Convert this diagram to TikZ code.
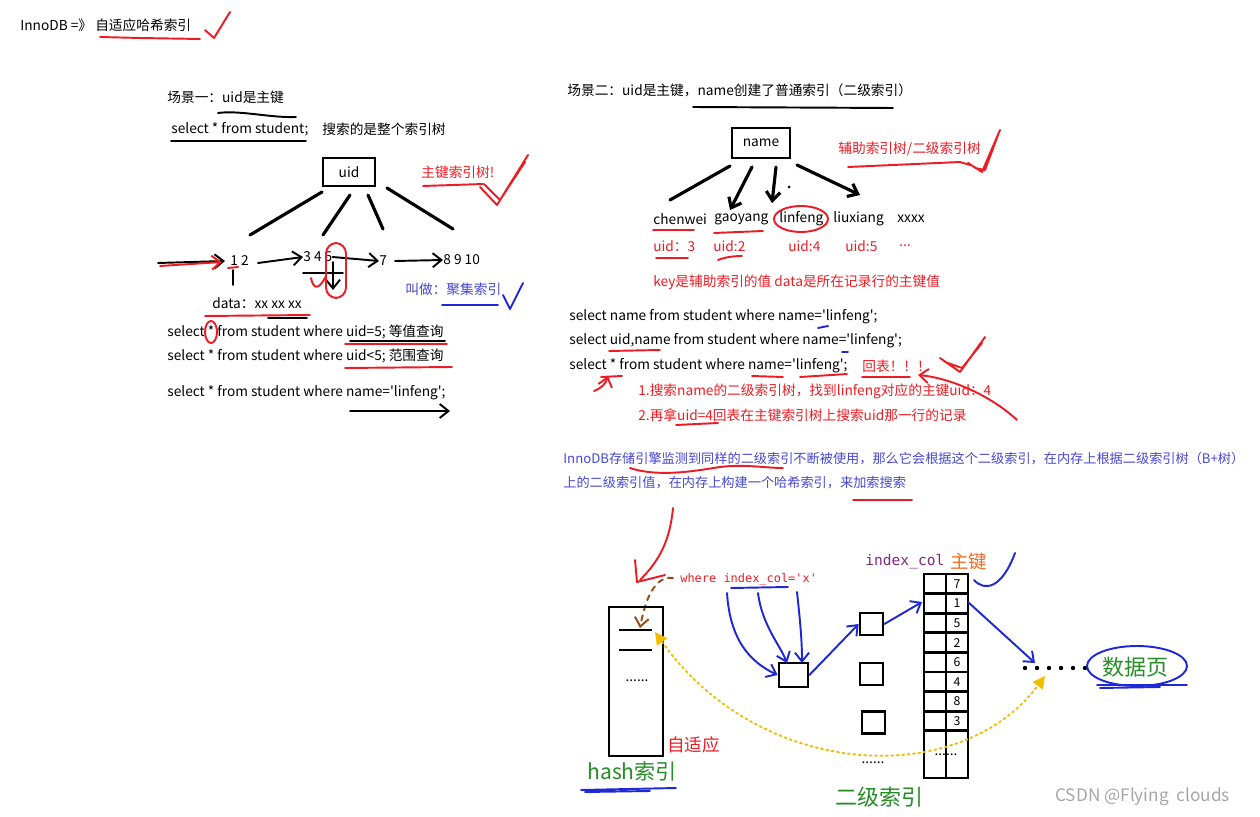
\documentclass[tikz,border=0pt]{standalone}
\usepackage{fontspec}
\setmainfont{Noto Sans CJK SC}
\newfontfamily\cjkfont{Noto Sans CJK SC}
\newfontfamily\codefont{DejaVu Sans Mono}
\usetikzlibrary{arrows.meta}

\definecolor{hred}{RGB}{237,28,36}
\definecolor{hblue}{RGB}{30,40,215}
\definecolor{tblue}{RGB}{70,70,210}
\definecolor{hgreen}{RGB}{40,140,40}
\definecolor{hpurple}{RGB}{128,40,128}
\definecolor{horange}{RGB}{240,110,40}
\definecolor{hbrown}{RGB}{150,75,20}
\definecolor{hyellow}{RGB}{240,190,0}

\tikzset{
  txt/.style={anchor=west, inner sep=0pt, font=\fontsize{7.8}{9}\cjkfont},
  rtxt/.style={txt, text=hred},
  pen/.style={line width=1.1pt, line cap=round, line join=round},
  rpen/.style={pen, draw=hred},
  bpen/.style={pen, draw=hblue},
  tip/.style={-{Straight Barb[length=5pt,width=8pt]}},
  keybox/.style={draw, line width=1.6pt, inner sep=0pt, font=\fontsize{7.8}{9}\cjkfont},
  treeline/.style={line width=1.8pt, line cap=round},
}

\begin{document}
\begin{tikzpicture}[x=0.02cm, y=-0.02cm]
\useasboundingbox (0,0) rectangle (1260,817);

% title
\node[txt] (title) at (20,25) {InnoDB =》 自适应哈希索引};
\draw[rpen] (100,37) -- (140,38) -- (200,39);
\draw[rpen] (205,30) -- (214,38) -- (230,12);

% scene one
\node[txt] (s1) at (167,97) {场景一：uid是主键};
\draw[pen] (218,113) .. controls (240,110) and (270,118) .. (296,117);
\node[txt] (q0) at (171,129) {select * from student;};
\draw[pen] (171,141) -- (306,141);
\node[txt] (q0note) at (322,129) {搜索的是整个索引树};

\node[keybox, minimum width=1.04cm, minimum height=0.56cm] (uid) at (349,172) {uid};
\draw[treeline] (322,192) -- (250,235) (350,195) -- (323,235)
  (368,195) -- (383,229) (387,188) -- (453,229);

\node[rtxt] (pktree) at (421,172) {主键索引树!};
\draw[rpen] (423,186) -- (483,184);
\draw[rpen] (480,187) -- (497,205) -- (528,155) (484,184) -- (500,200) -- (525,162);

\node[txt] (k12) at (230,261) {1 2};
\node[txt] (k345) at (303,257) {3 4 5};
\node[txt] (k7) at (379,261) {7};
\node[txt] (k8) at (443,260) {8 9 10};
\draw[pen, tip] (158,263) -- (225,261);
\draw[rpen, tip] (160,266) -- (222,262);
\draw[pen, tip] (258,263) -- (k345.west);
\draw[pen, tip] (k345.east) -- (k7.west);
\draw[pen, tip] (395,261) -- (k8.west);
\draw[pen] (233,270) -- (233,285);
\draw[rpen] (228,268) -- (238,267);
\draw[pen] (303,273) -- (343,273);
\draw[pen, tip] (333,262) -- (333,290);
\draw[rpen, rounded corners=6pt] (326,243) rectangle (346,298);
\draw[rpen] (311,278) .. controls (313,288) and (318,292) .. (326,276);

\node[txt, text=tblue] (cluster) at (405,289) {叫做：聚集索引};
\draw[bpen] (442,305) -- (498,305);
\draw[bpen] (503,295) -- (510,309) -- (523,283);

\node[txt] (data) at (212,303) {data：xx xx xx};
\draw[rpen] (205,316) -- (310,315);
\draw[pen] (268,318) -- (307,318);

\node[txt] (q1) at (167,332) {select * from student where uid=5; 等值查询};
\node[txt] (q2) at (167,356) {select * from student where uid<5; 范围查询};
\node[txt] (q3) at (167,393) {select * from student where name='linfeng';};
\draw[rpen] (211,332) ellipse (6 and 11);
\draw[pen] (350,341) -- (445,341);
\draw[rpen] (345,344) -- (447,344);
\draw[rpen] (345,368) -- (452,367);
\draw[pen, tip] (350,411) -- (450,411);

% scene two
\node[txt] (s2) at (567,90) {场景二：uid是主键，name创建了普通索引（二级索引）};
\draw[pen] (693,107) -- (893,108);

\node[keybox, minimum width=1.16cm, minimum height=0.6cm] (name) at (761,143) {name};
\draw[treeline] (730,166) -- (670,200);
\draw[treeline, tip] (752,167) -- (730,210);
\draw[treeline, tip] (776,167) -- (772,203);
\draw[treeline, tip] (797,165) -- (860,195);
\fill (789,187) circle (1.5);

\node[txt] (w1) at (653,219) {chenwei};
\node[txt] (w2) at (714,219) {gaoyang};
\node[txt] (w3) at (779,219) {linfeng};
\node[txt] (w4) at (833,219) {liuxiang};
\node[txt] (w5) at (897,219) {xxxx};
\draw[rpen] (801,219) ellipse (27 and 13);
\draw[rpen] (653,230) -- (694,230);
\draw[rpen] (714,233) -- (763,231);

\node[rtxt] (u1) at (653,246) {uid：3};
\node[rtxt] (u2) at (713,246) {uid:2};
\node[rtxt] (u3) at (788,246) {uid:4};
\node[rtxt] (u4) at (845,246) {uid:5};
\node[rtxt] (u5) at (899,246) {...};
\draw[rpen] (656,258) -- (688,258);
\draw[rpen] (718,260) .. controls (725,257) and (735,256) .. (742,256);

\node[rtxt] (subtree) at (838,149) {辅助索引树/二级索引树};
\draw[rpen] (848,167) -- (960,162) -- (970,165);
\draw[rpen] (968,163) -- (982,172) -- (1000,130) (975,168) -- (985,170) -- (998,135);
\node[rtxt] (keydata) at (653,282) {key是辅助索引的值 data是所在记录行的主键值};

\node[txt] (q4) at (569,317) {select name from student where name='linfeng';};
\node[txt] (q5) at (569,341) {select uid,name from student where name='linfeng';};
\node[txt] (q6) at (569,366) {select * from student where name='linfeng';};
\node[rtxt] (back) at (862,366) {回表！！！};
\draw[bpen] (818,328) -- (828,326);
\draw[bpen] (842,352) -- (848,352);
\draw[rpen] (609,351) -- (660,350);
\draw[rpen] (601,377) -- (622,376) (752,376) -- (783,377)
  (800,377) -- (847,374) (862,377) -- (910,377);
\draw[rpen, tip] (594,391) .. controls (602,388) and (606,383) .. (608,376);
\draw[rpen] (940,358) -- (960,372) -- (985,337) (945,362) -- (962,368) -- (982,343);
\draw[rpen, tip] (1017,420) .. controls (990,395) and (950,378) .. (918,375);
\node[rtxt] (step1) at (638,391) {1.搜索name的二级索引树，找到linfeng对应的主键uid：4};
\node[rtxt] (step2) at (638,415) {2.再拿uid=4回表在主键索引树上搜索uid那一行的记录};
\draw[rpen] (676,425) -- (718,423);

% adaptive hash
\node[txt, text=tblue, font=\fontsize{7.5}{9}\cjkfont] (para1) at (563,459) {InnoDB存储引擎监测到同样的二级索引不断被使用，那么它会根据这个二级索引，在内存上根据二级索引树（B+树）};
\node[txt, text=tblue, font=\fontsize{7.5}{9}\cjkfont] (para2) at (563,483) {上的二级索引值，在内存上构建一个哈希索引，来加索搜索};
\draw[rpen] (630,468) .. controls (660,478) and (700,470) .. (720,467) .. controls (745,464) and (765,468) .. (783,468);
\draw[rpen] (853,500) -- (912,500);

\draw[rpen] (673,508) .. controls (670,540) and (660,560) .. (640,580);
\draw[rpen] (635,560) -- (637,582) -- (665,575);

\node[txt, font=\fontsize{6.8}{8}\codefont, text=hred] (where) at (680,579) {where index\_col='x'};
\draw[bpen] (731,588) -- (788,587);
\draw[pen, hbrown, dashed, tip] (673,578) .. controls (655,575) and (645,600) .. (640,628);

\node[keybox, minimum width=1.08cm, minimum height=2.98cm] (hash) at (636,681.5) {};
\draw[line width=1.4pt] (619,630) -- (652,630) (619,650) -- (652,650);
\node[txt, anchor=center] (hdots) at (637,681) {......};
\node[txt, text=hred, font=\fontsize{10}{12}\cjkfont] (adapt) at (667,745) {自适应};
\node[txt, text=hgreen, font=\fontsize{12}{14}\cjkfont] (hashlbl) at (587,771) {hash索引};
\draw[bpen] (581,790) -- (676,788) (585,792) -- (650,791);

\node[keybox, minimum width=0.58cm, minimum height=0.48cm] (b1) at (793.5,675) {};
\node[keybox, minimum width=0.46cm, minimum height=0.44cm] (b2) at (871.5,624) {};
\node[keybox, minimum width=0.46cm, minimum height=0.44cm] (b3) at (871.5,674) {};
\node[keybox, minimum width=0.46cm, minimum height=0.44cm] (b4) at (873.5,722.5) {};
\node[txt, anchor=center] (bdots) at (873,763) {......};
\draw[bpen, tip] (727,593) .. controls (730,640) and (750,662) .. (b1.west);
\draw[bpen, tip] (758,593) .. controls (762,625) and (780,645) .. (787,663);
\draw[bpen, tip] (797,592) .. controls (800,620) and (802,640) .. (802,663);
\draw[bpen, tip] (b1.east) -- (b2.west);
\draw[bpen, tip] (b2.east) -- (922,602);

\node[txt, font=\fontsize{8.3}{10}\codefont, text=hpurple] (icol) at (865,562) {index\_col};
\node[txt, font=\fontsize{10.5}{12}\cjkfont, text=horange] (pk) at (950,562) {主键};
\foreach \v [count=\i] in {7,1,5,2,6,4,8,3} {
  \draw[line width=1.5pt] (924,{574+19.6*(\i-1)}) rectangle (946,{574+19.6*\i})
    (946,{574+19.6*(\i-1)}) rectangle (968,{574+19.6*\i});
  \node[inner sep=0pt, font=\fontsize{7}{8}\cjkfont] (pk\i) at (957,{583.8+19.6*(\i-1)}) {\v};
}
\draw[line width=1.5pt] (924,730.8) rectangle (968,778) (946,730.8) -- (946,778);
\node[txt, anchor=center] (tdots) at (946,755) {......};
\draw[bpen] (974,580) .. controls (985,592) and (1002,588) .. (1015,553);
\draw[bpen, tip] (968,602) -- (1035,663);

\foreach \x in {1025,1037,1049,1061,1073,1085}
  \fill (\x,668) circle (2.2);
\node[txt, text=hgreen, font=\fontsize{12.5}{14}\cjkfont] (page) at (1102,667) {数据页};
\draw[bpen] (1137,666) ellipse (50 and 20);
\draw[bpen] (1097,685) -- (1187,685) (1100,688) -- (1160,687);

\draw[pen, hyellow, dotted, {Triangle[length=7pt,width=7pt]}-{Triangle[length=7pt,width=7pt]}]
  (655,632) .. controls (760,780) and (960,790) .. (1045,676);

\node[txt, text=hgreen, font=\fontsize{12.5}{14}\cjkfont] (sec) at (835,797) {二级索引};
\node[txt, text=black!35, font=\fontsize{9.8}{12}\cjkfont] (csdn) at (1055,797) {CSDN @Flying\ \ clouds};
\end{tikzpicture}
\end{document}
